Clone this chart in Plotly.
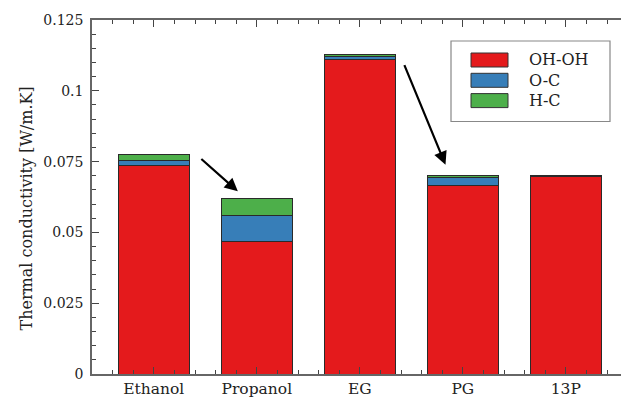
import plotly.graph_objects as go

categories = ["Ethanol", "Propanol", "EG", "PG", "13P"]
series_names = ["OH-OH", "O-C", "H-C"]
oh_oh = [0.0736, 0.0468, 0.1112, 0.0665, 0.0696]
o_c = [0.0019, 0.0091, 0.0010, 0.0030, 0.0003]
h_c = [0.0021, 0.0061, 0.0005, 0.0007, 0.0002]
y_ticks = [0, 0.025, 0.05, 0.075, 0.1, 0.125]
y_ticktext = ["0", "0.025", "0.05", "0.075", "0.1", "0.125"]

colors = ["#E41A1C", "#377EB8", "#4DAF4A"]
FONT = "DejaVu Serif"
xpos = list(range(1, len(categories) + 1))

fig = go.Figure()
for name, vals, col in zip(series_names, [oh_oh, o_c, h_c], colors):
    fig.add_trace(go.Bar(
        x=xpos, y=vals, name=name, width=0.69,
        marker=dict(color=col, line=dict(color="#2a2a2a", width=1)),
        showlegend=False,
    ))

W, H = 621, 397
ml, mr, mt, mb = 92, 0, 20, 23

fig.update_layout(
    width=W, height=H,
    margin=dict(l=ml, r=mr, t=mt, b=mb, autoexpand=False),
    barmode="stack",
    plot_bgcolor="white", paper_bgcolor="white",
    font=dict(family=FONT, size=14, color="#222"),
    xaxis=dict(
        range=[0.4, 0.4 + (W - ml - mr) / 103.0],
        tickmode="array", tickvals=xpos, ticktext=categories,
        ticks="inside", ticklen=7, tickwidth=1.2, tickcolor="#444",
        showline=True, linecolor="#666", linewidth=1.5, mirror="allticks",
        showgrid=False, zeroline=False,
        tickfont=dict(family=FONT, size=15.5, color="#222"),
        ticklabelstandoff=0,
        minor=dict(tick0=0.4, dtick=0.2, ticks="inside", ticklen=4, tickcolor="#444", tickwidth=1, showgrid=False),
    ),
    yaxis=dict(
        range=[0, 0.125],
        tickmode="array", tickvals=y_ticks, ticktext=y_ticktext,
        ticks="inside", ticklen=7, tickwidth=1.2, tickcolor="#444",
        showline=True, linecolor="#666", linewidth=1.5, mirror=False,
        showgrid=False, zeroline=False,
        tickfont=dict(family=FONT, size=14, color="#222"),
        ticklabelstandoff=4,
        minor=dict(tick0=0, dtick=0.005, ticks="inside", ticklen=4, tickcolor="#444", tickwidth=1, showgrid=False),
    ),
)

# y-axis title
fig.add_annotation(
    text="Thermal conductivity [W/m.K]", textangle=-90,
    xref="paper", yref="paper",
    x=(26 - ml) / (W - ml - mr), y=1 - (208.5 - mt) / (H - mt - mb),
    xanchor="center", yanchor="middle", showarrow=False,
    font=dict(family=FONT, size=16, color="#222"),
)

# arrows
arrows = [((1.447, 0.0764), (1.816, 0.0645)), ((3.427, 0.1096), (3.832, 0.0739))]
for (x0, y0), (x1, y1) in arrows:
    fig.add_annotation(
        x=x1, y=y1, ax=x0, ay=y0, xref="x", yref="y", axref="x", ayref="y",
        showarrow=True, arrowhead=2, arrowsize=1.2, arrowwidth=2.2, arrowcolor="#000", text="",
    )

# custom legend
def px2paper_x(px):
    return (px - ml) / (W - ml - mr)

def px2paper_y(py):
    return 1 - (py - mt) / (H - mt - mb)

fig.add_shape(type="rect", xref="paper", yref="paper",
              x0=px2paper_x(451), x1=px2paper_x(610), y0=px2paper_y(121.5), y1=px2paper_y(41),
              line=dict(color="#888", width=1.2), fillcolor="white", layer="above")
for i, (name, col) in enumerate(zip(series_names, colors)):
    cy = 60 + 20.3 * i
    fig.add_shape(type="rect", xref="paper", yref="paper",
                  x0=px2paper_x(471), x1=px2paper_x(508), y0=px2paper_y(cy + 7), y1=px2paper_y(cy - 7),
                  line=dict(color="#333", width=1), fillcolor=col, layer="above")
    fig.add_annotation(text=name, xref="paper", yref="paper",
                       x=px2paper_x(527), y=px2paper_y(cy), xanchor="left", yanchor="middle",
                       showarrow=False, font=dict(family=FONT, size=16, color="#222"))

fig.write_html("out.html", config={"displayModeBar": False},
               post_script="document.body.style.margin='0px';document.body.style.overflow='hidden';")
